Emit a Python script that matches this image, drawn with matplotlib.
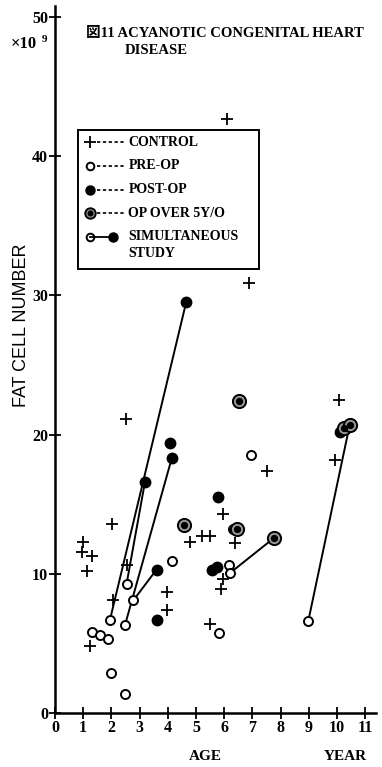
import matplotlib
matplotlib.use('Agg')
import matplotlib.pyplot as plt
from matplotlib.patches import Rectangle

# ---- data: age (years) vs fat cell number (x10^9) ----
control_age = [1.0, 0.95, 1.3, 1.12, 1.24, 2.01, 2.07, 2.5, 2.54, 3.96, 3.96,
               4.79, 5.2, 5.5, 5.5, 5.97, 5.95, 5.9, 6.38, 6.1, 6.88, 7.53,
               9.93, 10.08]
control_fcn = [12.3, 11.6, 11.3, 10.2, 4.8, 13.6, 8.1, 21.1, 10.6, 8.7, 7.4,
               12.25, 12.7, 12.7, 6.4, 14.3, 9.6, 8.9, 12.2, 42.7, 30.9, 17.4,
               18.2, 22.5]

pre_age = [1.3, 1.6, 1.89, 1.97, 2.48, 4.14, 5.82, 6.18, 6.32, 6.94]
pre_fcn = [5.84, 5.6, 5.3, 2.85, 1.4, 10.9, 5.75, 10.6, 13.25, 18.55]

post_age = [4.08, 3.6, 5.79, 5.56, 5.76, 10.1]
post_fcn = [19.4, 6.7, 15.5, 10.3, 10.5, 20.2]

over5_age = [4.57, 6.52, 6.46, 10.25]
over5_fcn = [13.5, 22.4, 13.25, 20.45]

# simultaneous study: pre-op value -> post-op value for the same child
sim_pre_age = [1.95, 2.54, 2.48, 2.78, 6.2, 8.98]
sim_pre_fcn = [6.7, 9.3, 6.3, 8.1, 10.05, 6.6]
sim_post_age = [4.65, 3.19, 4.14, 3.6, 7.78, 10.45]
sim_post_fcn = [29.5, 16.6, 18.3, 10.3, 12.6, 20.7]
sim_post_over5 = [False, False, False, False, True, True]

x_ticks = list(range(0, 12))
y_ticks = [0, 10, 20, 30, 40, 50]

SERIF = ['Liberation Serif', 'DejaVu Serif']
TITLE_FONT = ['Liberation Serif', 'Noto Sans CJK JP']


def plot_open(ax, x, y, ms=6.5):
    ax.plot(x, y, 'o', ms=ms, mfc='white', mec='black', mew=1.4, ls='none', zorder=4)


def plot_filled(ax, x, y, ms=7.5):
    ax.plot(x, y, 'o', ms=ms, mfc='black', mec='black', ls='none', zorder=4)


def plot_ringed(ax, x, y, ms=9.5):
    ax.plot(x, y, 'o', ms=ms, mfc='#9a9a9a', mec='black', mew=1.4, ls='none', zorder=4)
    ax.plot(x, y, 'o', ms=ms * 0.45, mfc='black', mec='black', ls='none', zorder=5)


def plot_control(ax, x, y):
    ax.plot(x, y, '+', ms=9, mew=1.3, color='black', ls='none', zorder=3)


def draw_legend(ax):
    ax.add_patch(Rectangle((0.8, 31.9), 6.45, 9.95, fill=False, lw=1.4,
                           ec='black', zorder=6))
    mx, d0, d1, tx = 1.25, 1.5, 2.45, 2.6
    rows = [41.0, 39.3, 37.6, 35.9, 34.2]
    texts = ['CONTROL', 'PRE-OP', 'POST-OP', 'OP OVER 5Y/O']
    for yy, t in zip(rows, texts):
        ax.plot([d0, d1], [yy, yy], ls=(0, (2, 1.5)), lw=1.2, color='black', zorder=6)
        ax.text(tx, yy, t, fontsize=10, family=SERIF, fontweight='bold',
                va='center', ha='left', zorder=6)
    plot_control(ax, [mx], [rows[0]])
    plot_open(ax, [mx], [rows[1]], ms=5.5)
    plot_filled(ax, [mx], [rows[2]], ms=6.5)
    plot_ringed(ax, [mx], [rows[3]], ms=7.5)
    # simultaneous study sample: open -> filled joined by a line
    ax.plot([mx, 2.05], [rows[4], rows[4]], color='black', lw=1.3, zorder=6)
    plot_open(ax, [mx], [rows[4]], ms=5.5)
    plot_filled(ax, [2.05], [rows[4]], ms=6.5)
    ax.text(tx, rows[4], 'SIMULTANEOUS', fontsize=10, family=SERIF,
            fontweight='bold', va='center', ha='left', zorder=6)
    ax.text(tx, 33.0, 'STUDY', fontsize=10, family=SERIF, fontweight='bold',
            va='center', ha='left', zorder=6)


fig = plt.figure(figsize=(3.82, 7.67), dpi=100)
ax = fig.add_axes([0.144, 0.0704, 0.8416, 0.9219])
ax.set_xlim(0, 11.4)
ax.set_ylim(0, 50.8)

for s in ['top', 'right']:
    ax.spines[s].set_visible(False)
for s in ['left', 'bottom']:
    ax.spines[s].set_linewidth(1.8)

ax.set_xticks(x_ticks)
ax.set_yticks(y_ticks)
ax.tick_params(direction='inout', length=8, width=1.3, pad=1)
for lab in ax.get_xticklabels() + ax.get_yticklabels():
    lab.set_family(SERIF)
    lab.set_fontweight('bold')
    lab.set_fontsize(11.5)

# connecting lines of the simultaneous study
for xa, ya, xb, yb in zip(sim_pre_age, sim_pre_fcn, sim_post_age, sim_post_fcn):
    ax.plot([xa, xb], [ya, yb], color='black', lw=1.4, zorder=2)

plot_control(ax, control_age, control_fcn)
plot_open(ax, pre_age, pre_fcn)
plot_open(ax, sim_pre_age, sim_pre_fcn)
plot_filled(ax, post_age, post_fcn)
plot_filled(ax, [a for a, o in zip(sim_post_age, sim_post_over5) if not o],
            [f for f, o in zip(sim_post_fcn, sim_post_over5) if not o])
plot_ringed(ax, over5_age, over5_fcn)
plot_ringed(ax, [a for a, o in zip(sim_post_age, sim_post_over5) if o],
            [f for f, o in zip(sim_post_fcn, sim_post_over5) if o])

draw_legend(ax)

# titles and labels
fig.text(86 / 382, 1 - 33 / 767, '図11 ACYANOTIC CONGENITAL HEART',
         fontsize=10.5, family=TITLE_FONT, fontweight='bold',
         va='center', ha='left')
fig.text(125 / 382, 1 - 51 / 767, 'DISEASE', fontsize=10.5, family=TITLE_FONT,
         fontweight='bold', va='center', ha='left')
fig.text(11 / 382, 1 - 44 / 767, '×10', fontsize=12, family=SERIF,
         fontweight='bold', va='center', ha='left')
fig.text(42 / 382, 1 - 39 / 767, '9', fontsize=8, family=SERIF,
         fontweight='bold', va='center', ha='left')
fig.text(22 / 382, 1 - 325 / 767, 'FAT CELL NUMBER', fontsize=13,
         family=['Liberation Sans', 'DejaVu Sans'], rotation=90,
         va='center', ha='center')
fig.text(205 / 382, 1 - 757 / 767, 'AGE', fontsize=11, family=SERIF,
         fontweight='bold', va='center', ha='center')
fig.text(345 / 382, 1 - 757 / 767, 'YEAR', fontsize=11, family=SERIF,
         fontweight='bold', va='center', ha='center')

fig.savefig('out.png', dpi=100)
